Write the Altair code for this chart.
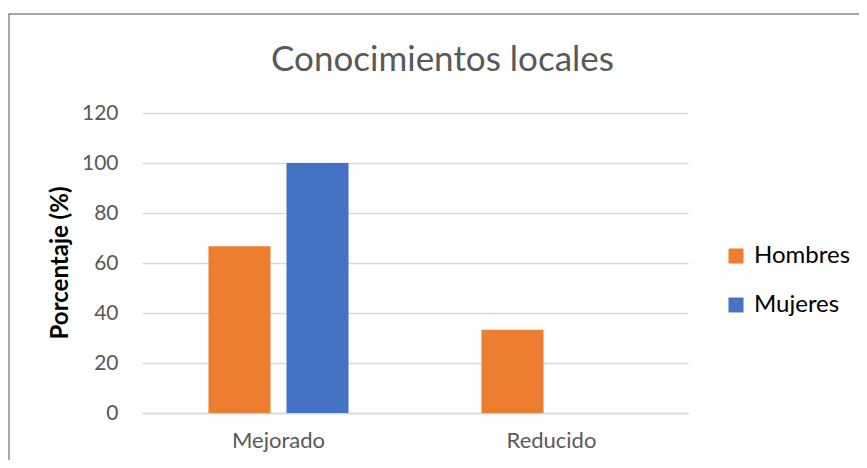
import altair as alt
import pandas as pd

categories = ["Mejorado", "Mejorado", "Reducido", "Reducido"]
series = ["Hombres", "Mujeres", "Hombres", "Mujeres"]
values = [66.67, 100.0, 33.33, 0.0]
y_ticks = [0, 20, 40, 60, 80, 100, 120]
chart_title = "Conocimientos locales"
y_title = "Porcentaje (%)"

df = pd.DataFrame({"Cambio": categories, "Sexo": series, "Porcentaje": values})

FONT = "Lato"
W, H = 546, 300

bars = alt.Chart(df).mark_bar().encode(
    x=alt.X("Cambio:N", sort=["Mejorado", "Reducido"],
            scale=alt.Scale(paddingInner=0.487, paddingOuter=0.2436),
            axis=alt.Axis(title=None, labelAngle=0, labelFontSize=22, labelColor="#595959",
                          labelFont=FONT, labelPadding=17, ticks=False,
                          domainColor="#D9D9D9", domainWidth=1.5)),
    xOffset=alt.XOffset("Sexo:N", sort=["Hombres", "Mujeres"],
                        scale=alt.Scale(paddingInner=0.205, paddingOuter=0)),
    y=alt.Y("Porcentaje:Q", scale=alt.Scale(domain=[0, 120], nice=False),
            axis=alt.Axis(values=y_ticks, title=None,
                          labelFontSize=21, labelColor="#595959", labelFont=FONT,
                          labelPadding=24, ticks=False, domain=False,
                          gridColor="#D9D9D9", gridWidth=1.5)),
    color=alt.Color("Sexo:N", sort=["Hombres", "Mujeres"],
                    scale=alt.Scale(domain=["Hombres", "Mujeres"], range=["#ED7D31", "#4472C4"]),
                    legend=alt.Legend(title=None, orient="none", legendX=582, legendY=131,
                                      symbolType="square", symbolSize=225, symbolStrokeWidth=0,
                                      labelFontSize=24, labelFont=FONT, labelColor="#000000",
                                      rowPadding=25, symbolOffset=0, labelOffset=6)),
)

frame = alt.Chart(alt.Data(values=[{}])).mark_rect(
    fill=None, stroke="#8C8C8C", strokeWidth=1.5, clip=False
).encode(
    x=alt.value(-133), x2=alt.value(W + 300),
    y=alt.value(-99), y2=alt.value(H + 200),
)

title_text = alt.Chart(alt.Data(values=[{"t": chart_title}])).mark_text(
    font=FONT, fontSize=35, color="#595959", align="center", baseline="alphabetic", clip=False
).encode(x=alt.value(300.5), y=alt.value(-42), text="t:N")

ytitle_text = alt.Chart(alt.Data(values=[{"t": y_title}])).mark_text(
    font=FONT, fontSize=24, fontWeight="bold", color="#000000", angle=270,
    align="center", baseline="middle", clip=False
).encode(x=alt.value(-81), y=alt.value(150), text="t:N")

chart = alt.layer(frame, bars, title_text, ytitle_text).properties(
    width=W, height=H,
    background="white",
    autosize=alt.AutoSizeParams(type="none"),
    padding={"left": 134, "top": 105, "right": 171, "bottom": 47},
).configure_view(stroke="transparent", strokeWidth=0)

chart.save("out.html", embed_options={"renderer": "svg", "actions": False})
